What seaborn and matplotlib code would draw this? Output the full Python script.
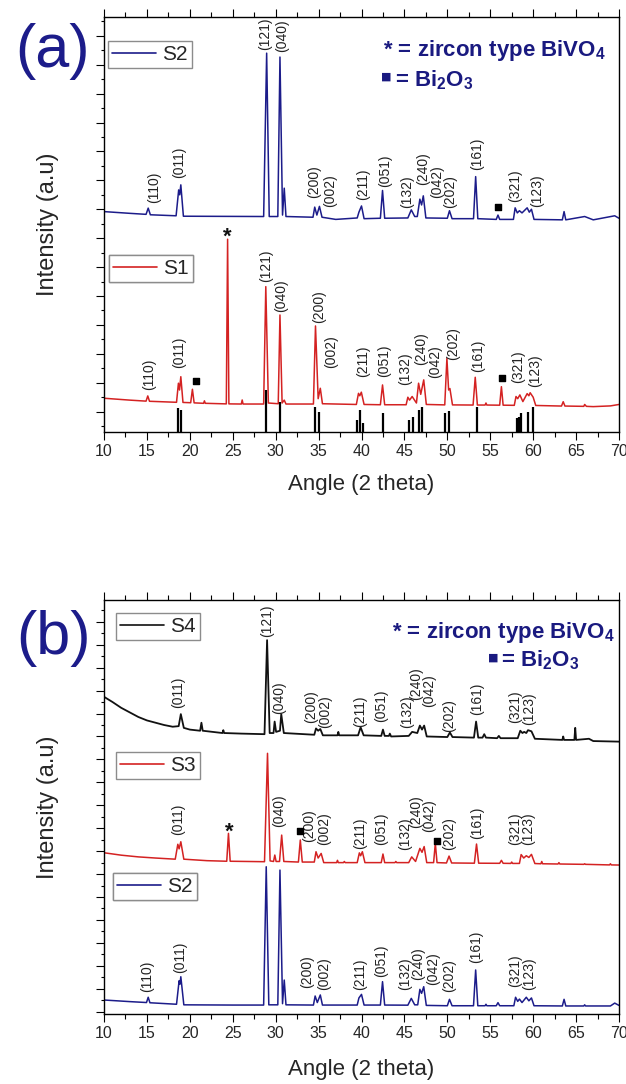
import matplotlib
matplotlib.use("Agg")
import matplotlib.pyplot as plt
from matplotlib.ticker import MultipleLocator
from matplotlib.lines import Line2D
import seaborn as sns

# ---------------- data ----------------
# Panel (a): S2 (navy)
a_s2_angle = [10.0, 13.0, 14.9, 15.15, 15.4, 18.4, 18.7, 18.82, 18.95, 19.25, 28.6, 28.95, 29.25,
              30.25, 30.5, 30.8, 31.0, 31.2, 34.35, 34.55, 34.8, 35.1, 35.4, 37.0, 39.5, 39.7, 40.0,
              40.3, 42.2, 42.45, 42.7, 45.4, 45.8, 46.2, 46.5, 46.8, 47.0, 47.2, 47.5, 50.0, 50.25,
              50.55, 53.05, 53.3, 53.55, 55.7, 55.9, 56.1, 57.7, 57.9, 58.15, 58.4, 58.7, 59.3, 59.55,
              59.8, 60.1, 63.4, 63.6, 63.8, 66.0, 67.0, 69.5, 70.0]
a_s2_int = [15.84, 15.72, 15.65, 16.08, 15.62, 15.55, 17.34, 17.0, 17.69, 15.52, 15.5, 26.8, 15.5,
            15.5, 26.53, 15.6, 17.46, 15.5, 15.45, 16.15, 15.6, 16.2, 15.45, 15.3, 15.4, 15.8, 16.23,
            15.35, 15.38, 17.3, 15.38, 15.4, 15.96, 15.5, 15.5, 16.7, 16.3, 16.93, 15.4, 15.38, 15.9,
            15.35, 15.35, 18.26, 15.35, 15.3, 15.6, 15.3, 15.3, 16.1, 15.75, 15.9, 15.75, 16.1, 15.8,
            16.0, 15.3, 15.27, 15.84, 15.27, 15.5, 15.27, 15.55, 15.38]

# Panel (a): S1 (red)
a_s1_angle = [10.0, 13.0, 14.9, 15.1, 15.3, 18.45, 18.67, 18.8, 18.95, 19.2, 20.1, 20.3, 20.5, 21.6,
              21.7, 21.8, 24.25, 24.4, 24.55, 26.0, 26.1, 26.2, 28.6, 28.85, 29.15, 30.3, 30.5, 30.75,
              31.0, 31.2, 34.4, 34.64, 34.95, 35.2, 35.45, 39.4, 39.65, 39.8, 39.98, 40.3, 42.2, 42.45,
              42.7, 45.2, 45.4, 45.6, 45.9, 46.4, 46.65, 46.9, 47.25, 47.55, 49.7, 49.95, 50.15, 50.3,
              50.6, 53.0, 53.25, 53.5, 54.4, 54.5, 54.6, 56.1, 56.3, 56.5, 57.8, 58.0, 58.2, 58.45,
              58.8, 59.3, 59.5, 59.65, 60.0, 60.3, 63.3, 63.5, 63.7, 65.9, 66.0, 66.2, 67.0, 69.0, 70.0]
a_s1_int = [2.93, 2.8, 2.73, 3.09, 2.72, 2.65, 3.97, 3.5, 4.42, 2.64, 2.62, 3.55, 2.61, 2.58,
            2.75, 2.58, 2.54, 13.93, 2.54, 2.53, 2.81, 2.53, 2.53, 10.65, 2.6, 2.55, 8.69, 2.6,
            2.8, 2.53, 2.53, 7.93, 2.9, 3.62, 2.55, 2.5, 3.27, 3.1, 3.35, 2.5, 2.48, 3.85,
            2.48, 2.48, 3.0, 2.8, 3.05, 2.6, 3.97, 3.2, 4.2, 2.5, 2.47, 5.69, 3.5, 3.6,
            2.47, 2.46, 4.38, 2.46, 2.46, 2.6, 2.46, 2.45, 3.73, 2.45, 2.44, 3.05, 2.9, 3.16,
            2.7, 3.25, 3.1, 3.31, 3.0, 2.43, 2.39, 2.69, 2.39, 2.37, 2.5, 2.37, 2.35, 2.4, 2.5]

# Panel (a): reference pattern sticks
stick_pos = [18.67, 18.95, 28.85, 30.55, 34.6, 35.0, 39.5, 39.8, 40.2, 42.45, 45.56, 46.03,
             46.7, 47.1, 49.75, 50.2, 53.4, 58.1, 58.3, 58.6, 59.4, 60.0]
stick_top = [2.28, 2.12, 3.5, 2.69, 2.35, 1.96, 1.43, 2.12, 1.24, 1.93, 1.43, 1.61,
             2.12, 2.3, 1.93, 2.07, 2.3, 1.58, 1.65, 1.89, 2.0, 2.3]

# Panel (b): S4 (black)
b_s4_angle = [10.0, 11.0, 12.0, 13.0, 14.0, 15.0, 16.0, 17.0, 18.0, 18.7, 18.95, 19.3, 20.0, 21.2,
              21.35, 21.5, 23.8, 23.9, 24.0, 26.0, 28.7, 29.0, 29.3, 29.75, 29.88, 30.05, 30.5, 30.65,
              30.95, 34.5, 34.7, 34.95, 35.2, 35.5, 37.2, 37.3, 37.4, 39.6, 39.9, 40.25, 42.3, 42.5,
              42.7, 43.2, 43.3, 43.45, 45.5, 45.9, 46.5, 46.8, 47.05, 47.3, 47.6, 50.0, 50.3, 50.6,
              53.1, 53.35, 53.6, 54.1, 54.3, 54.5, 55.8, 56.0, 56.2, 58.2, 58.5, 58.75, 58.95, 59.2,
              59.4, 59.8, 60.2, 63.4, 63.5, 63.6, 64.8, 64.9, 65.0, 66.5, 67.0, 70.0]
b_s4_int = [27.46, 27.0, 26.5, 26.1, 25.7, 25.4, 25.2, 25.0, 24.85, 24.9, 25.95, 24.75, 24.6, 24.5,
            25.2, 24.5, 24.3, 24.55, 24.3, 24.25, 24.2, 32.4, 24.3, 24.3, 25.3, 24.4, 24.5, 25.95,
            24.3, 24.15, 24.7, 24.5, 24.65, 24.1, 24.1, 24.4, 24.1, 24.1, 24.8, 24.1, 24.05, 24.6,
            24.05, 24.05, 24.25, 24.0, 24.05, 24.4, 24.3, 24.95, 24.6, 24.95, 24.0, 23.95, 24.35, 23.95,
            23.9, 25.3, 23.9, 23.9, 24.2, 23.9, 23.85, 24.05, 23.85, 23.85, 24.5, 24.3, 24.4, 24.3,
            24.55, 24.45, 23.8, 23.7, 24.0, 23.7, 23.7, 24.75, 23.7, 23.8, 23.6, 23.55]

# Panel (b): S3 (red)
b_s3_angle = [10.0, 12.0, 14.0, 16.0, 18.3, 18.6, 18.75, 18.95, 19.3, 22.0, 24.3, 24.5, 24.7, 28.7,
              29.05, 29.35, 29.75, 29.9, 30.05, 30.45, 30.7, 30.95, 32.65, 32.87, 33.1, 34.5, 34.7,
              34.95, 35.3, 35.6, 37.1, 37.2, 37.3, 37.9, 38.0, 38.1, 39.5, 39.75, 39.9, 40.1, 40.4,
              42.3, 42.5, 42.7, 43.9, 44.0, 44.1, 45.5, 45.85, 46.3, 46.8, 47.05, 47.3, 47.6, 48.4,
              48.6, 48.8, 49.9, 50.2, 50.5, 53.15, 53.4, 53.65, 56.1, 56.3, 56.5, 57.4, 57.5, 57.6,
              58.4, 58.6, 58.9, 59.2, 59.5, 59.8, 60.2, 60.9, 61.0, 61.1, 62.9, 63.0, 63.1, 65.9,
              66.0, 66.1, 68.9, 69.0, 69.1, 70.0]
b_s3_int = [13.86, 13.65, 13.5, 13.4, 13.3, 14.6, 14.2, 14.82, 13.3, 13.17, 13.12, 15.55, 13.12, 13.08,
            22.53, 13.15, 13.1, 13.66, 13.1, 13.1, 15.4, 13.1, 13.05, 14.97, 13.05, 13.05, 13.95,
            13.4, 13.8, 13.0, 13.0, 13.2, 13.0, 13.0, 13.1, 13.0, 13.0, 13.85, 13.6, 13.95, 13.0,
            13.0, 13.75, 13.0, 13.0, 13.1, 13.0, 13.0, 13.5, 13.1, 14.24, 13.9, 14.4, 13.0, 13.0,
            14.68, 13.0, 12.97, 13.57, 12.97, 12.95, 14.62, 12.95, 12.94, 13.2, 12.94, 12.93, 13.05, 12.93,
            12.93, 13.7, 13.4, 13.6, 13.45, 13.72, 12.92, 12.9, 13.1, 12.9, 12.88, 13.0, 12.88, 12.85,
            12.9, 12.85, 12.8, 12.9, 12.8, 12.79]

# Panel (b): S2 (navy)
b_s2_angle = [10.0, 13.0, 14.95, 15.15, 15.35, 18.45, 18.75, 18.85, 18.95, 19.3, 25.0, 28.6, 28.9,
              29.2, 30.25, 30.5, 30.8, 31.0, 31.2, 34.4, 34.6, 34.85, 35.2, 35.45, 39.5, 39.7, 40.0,
              40.3, 42.2, 42.45, 42.7, 45.4, 45.8, 46.2, 46.55, 46.8, 47.0, 47.25, 47.55, 50.0, 50.25,
              50.55, 53.05, 53.3, 53.55, 54.4, 54.5, 54.6, 55.7, 55.9, 56.1, 57.75, 57.95, 58.2, 58.4,
              58.7, 59.2, 59.5, 59.8, 60.1, 63.4, 63.6, 63.8, 65.9, 66.0, 66.1, 69.0, 69.5, 70.0]
b_s2_int = [1.02, 0.88, 0.8, 1.26, 0.78, 0.65, 2.7, 2.4, 3.05, 0.6, 0.58, 0.58, 12.64,
            0.6, 0.6, 12.35, 0.7, 2.76, 0.6, 0.58, 1.37, 0.8, 1.46, 0.58, 0.58, 1.2, 1.51,
            0.58, 0.58, 2.62, 0.58, 0.57, 1.16, 0.6, 0.6, 1.95, 1.6, 2.18, 0.55, 0.52, 1.08,
            0.52, 0.52, 3.64, 0.52, 0.52, 0.65, 0.52, 0.52, 0.79, 0.52, 0.52, 1.26, 0.9, 1.1,
            0.8, 1.26, 0.95, 1.2, 0.52, 0.5, 1.08, 0.5, 0.5, 0.6, 0.5, 0.5, 0.75, 0.55]

# Miller-index labels: text, angle, bottom of label
a_s2_lab = ["(110)", "(011)", "(121)", "(040)", "(200)", "(002)", "(211)", "(051)", "(132)", "(240)",
            "(042)", "(202)", "(161)", "(321)", "(123)"]
a_s2_lab_x = [15.8, 18.8, 28.8, 30.7, 34.5, 36.3, 40.2, 42.8, 45.3, 47.2, 48.8, 50.3, 53.5, 57.9, 60.5]
a_s2_lab_y = [16.42, 18.15, 27.03, 26.91, 16.77, 16.19, 16.65, 17.57, 16.08, 17.69, 16.77, 16.1,
              18.73, 16.53, 16.19]

a_s1_lab = ["(110)", "(011)", "(121)", "(040)", "(200)", "(002)", "(211)", "(051)", "(132)", "(240)",
            "(042)", "(202)", "(161)", "(321)", "(123)"]
a_s1_lab_x = [15.2, 18.7, 28.9, 30.6, 35.1, 36.5, 40.2, 42.6, 45.1, 47.0, 48.6, 50.7, 53.6, 58.2, 60.2]
a_s1_lab_y = [3.5, 5.0, 11.0, 8.92, 8.12, 5.0, 4.42, 4.42, 3.85, 5.23, 4.31, 5.58, 4.77, 3.97, 3.73]

b_s4_lab = ["(011)", "(121)", "(040)", "(200)", "(002)", "(211)", "(051)", "(132)", "(240)", "(042)",
            "(202)", "(161)", "(321)", "(123)"]
b_s4_lab_x = [18.6, 29.05, 30.45, 34.15, 35.75, 39.8, 42.3, 45.3, 46.4, 47.9, 50.2, 53.5, 57.95, 59.5]
b_s4_lab_y = [26.45, 32.7, 26.0, 25.14, 24.7, 24.85, 25.28, 24.7, 27.17, 26.6, 24.4, 25.87, 25.14, 25.0]

b_s3_lab = ["(011)", "(040)", "(200)", "(002)", "(211)", "(051)", "(132)", "(240)", "(042)", "(202)",
            "(161)", "(321)", "(123)"]
b_s3_lab_x = [18.6, 30.45, 33.9, 35.65, 39.8, 42.3, 45.1, 46.4, 47.9, 50.2, 53.5, 57.85, 59.45]
b_s3_lab_y = [15.4, 16.13, 14.8, 14.5, 14.2, 14.5, 14.1, 16.0, 15.67, 14.1, 15.08, 14.5, 14.5]

b_s2_lab = ["(110)", "(011)", "(200)", "(002)", "(211)", "(051)", "(132)", "(240)", "(042)", "(202)",
            "(161)", "(321)", "(123)"]
b_s2_lab_x = [15.0, 18.85, 33.7, 35.6, 39.8, 42.3, 45.1, 46.6, 48.3, 50.2, 53.4, 57.9, 59.5]
b_s2_lab_y = [1.69, 3.37, 2.04, 1.89, 1.89, 3.05, 1.89, 2.76, 2.33, 1.74, 4.22, 2.18, 1.89]

# phase markers
a_star_x, a_star_y = [24.4], [13.66]
b_star_x, b_star_y = [24.6], [15.17]
a_sq_x, a_sq_y = [20.68, 55.85, 56.36], [4.12, 16.15, 4.31]
b_sq_x, b_sq_y = [32.87, 48.75], [15.78, 14.9]

NAVY = "#1c1c8a"
RED = "#d42222"
BLACK = "#111111"
TXT = "#1a1a80"

# ---------------- style ----------------
sns.set_style("ticks")
plt.rcParams["font.family"] = ["Liberation Sans", "DejaVu Sans"]
plt.rcParams["mathtext.fontset"] = "custom"
plt.rcParams["mathtext.rm"] = "Liberation Sans"
plt.rcParams["mathtext.bf"] = "Liberation Sans:bold"

fig = plt.figure(figsize=(6.26, 10.84), dpi=100)
ax_a = fig.add_axes([104 / 626, 1 - 432 / 1084, 515 / 626, 415 / 1084])
ax_b = fig.add_axes([104 / 626, 1 - 1014 / 1084, 515 / 626, 414 / 1084])


def style_axes(ax, ylim, xlab_y):
    ax.set_xlim(10, 70)
    ax.set_ylim(*ylim)
    ax.xaxis.set_major_locator(MultipleLocator(5))
    ax.xaxis.set_minor_locator(MultipleLocator(2.5))
    ax.yaxis.set_major_locator(MultipleLocator(2))
    ax.yaxis.set_minor_locator(MultipleLocator(1))
    ax.tick_params(axis="x", which="both", direction="out", top=True, bottom=True,
                   labeltop=False, labelsize=11.5, pad=3, width=0.8, color="black")
    ax.tick_params(axis="x", which="major", length=5.8)
    ax.tick_params(axis="x", which="minor", length=3.8)
    ax.tick_params(axis="y", which="both", direction="out", left=True, right=False,
                   labelleft=False, width=0.8, color="black")
    ax.tick_params(axis="y", which="major", length=6.0)
    ax.tick_params(axis="y", which="minor", length=2.5)
    for sp in ax.spines.values():
        sp.set_visible(True)
        sp.set_linewidth(1.0)
        sp.set_color("black")
    ax.set_xlabel("Angle (2 theta)", fontsize=16)
    ax.set_ylabel("Intensity (a.u)", fontsize=17)
    ax.xaxis.set_label_coords(0.5, xlab_y)
    ax.yaxis.set_label_coords(-0.087, 0.5)


def draw_curve(ax, x, y, color, lw=1.1):
    sns.lineplot(x=x, y=y, ax=ax, color=color, linewidth=lw, sort=False,
                 estimator=None, legend=False)


def draw_labels(ax, texts, xs, ys):
    for t, x, y in zip(texts, xs, ys):
        ax.text(x, y, t, rotation=90, ha="center", va="bottom", fontsize=10, color="#222222")


def add_legend(ax, color, label, x0, ytop):
    h = Line2D([], [], color=color, lw=1.2)
    leg = ax.legend([h], [label], loc="upper left", bbox_to_anchor=(x0, ytop),
                    bbox_transform=ax.transAxes, borderaxespad=0, fontsize=15,
                    handlelength=2.1, handletextpad=0.3, borderpad=0.2,
                    frameon=True, fancybox=False, edgecolor="#8c8c8c", framealpha=1)
    leg.get_frame().set_linewidth(1.0)
    ax.add_artist(leg)


# ---------------- panel (a) ----------------
style_axes(ax_a, (0.595, 29.3), -0.102)
draw_curve(ax_a, a_s2_angle, a_s2_int, NAVY)
draw_curve(ax_a, a_s1_angle, a_s1_int, RED)
ax_a.vlines(stick_pos, 0.595, stick_top, color="black", linewidth=1.6)
draw_labels(ax_a, a_s2_lab, a_s2_lab_x, a_s2_lab_y)
draw_labels(ax_a, a_s1_lab, a_s1_lab_x, a_s1_lab_y)
for x, y in zip(a_star_x, a_star_y):
    ax_a.text(x, y, "*", ha="center", va="baseline", fontsize=16, fontweight="bold", color="#111111")
ax_a.scatter(a_sq_x, a_sq_y, marker="s", s=24, color="black", zorder=5)
add_legend(ax_a, NAVY, "S2", 0.008, 0.942)
add_legend(ax_a, RED, "S1", 0.009, 0.4265)

ax_a.text(0.5417, 0.906, r"* = zircon type BiVO$_\mathbf{4}$", transform=ax_a.transAxes,
          fontsize=16, fontweight="bold", color=TXT, ha="left", va="baseline")
ax_a.text(0.5485, 0.8561, "\u25a0", transform=ax_a.transAxes, family="DejaVu Sans",
          fontsize=8, color=TXT, ha="center", va="center")
ax_a.text(0.565, 0.832, r"= Bi$_\mathbf{2}$O$_\mathbf{3}$", transform=ax_a.transAxes,
          fontsize=16, fontweight="bold", color=TXT, ha="left", va="baseline")

# ---------------- panel (b) ----------------
style_axes(ax_b, (-0.2, 35.9), -0.109)
draw_curve(ax_b, b_s4_angle, b_s4_int, BLACK, lw=1.3)
draw_curve(ax_b, b_s3_angle, b_s3_int, RED)
draw_curve(ax_b, b_s2_angle, b_s2_int, NAVY)
draw_labels(ax_b, b_s4_lab, b_s4_lab_x, b_s4_lab_y)
draw_labels(ax_b, b_s3_lab, b_s3_lab_x, b_s3_lab_y)
draw_labels(ax_b, b_s2_lab, b_s2_lab_x, b_s2_lab_y)
for x, y in zip(b_star_x, b_star_y):
    ax_b.text(x, y, "*", ha="center", va="baseline", fontsize=16, fontweight="bold", color="#111111")
ax_b.scatter(b_sq_x, b_sq_y, marker="s", s=24, color="black", zorder=5)
add_legend(ax_b, BLACK, "S4", 0.0233, 0.9693)
add_legend(ax_b, RED, "S3", 0.0233, 0.6336)
add_legend(ax_b, NAVY, "S2", 0.0175, 0.3413)

ax_b.text(0.992, 0.908, r"* = zircon type BiVO$_\mathbf{4}$", transform=ax_b.transAxes,
          fontsize=16, fontweight="bold", color=TXT, ha="right", va="baseline")
ax_b.text(0.7563, 0.86, "\u25a0", transform=ax_b.transAxes, family="DejaVu Sans",
          fontsize=8, color=TXT, ha="center", va="center")
ax_b.text(0.771, 0.839, r"= Bi$_\mathbf{2}$O$_\mathbf{3}$", transform=ax_b.transAxes,
          fontsize=16, fontweight="bold", color=TXT, ha="left", va="baseline")

# panel letters
fig.text(52.5 / 626, 1 - 67 / 1084, "(a)", fontsize=44, color=NAVY, ha="center", va="baseline")
fig.text(53 / 626, 1 - 654 / 1084, "(b)", fontsize=44, color=NAVY, ha="center", va="baseline")

fig.savefig("out.png", dpi=100)
